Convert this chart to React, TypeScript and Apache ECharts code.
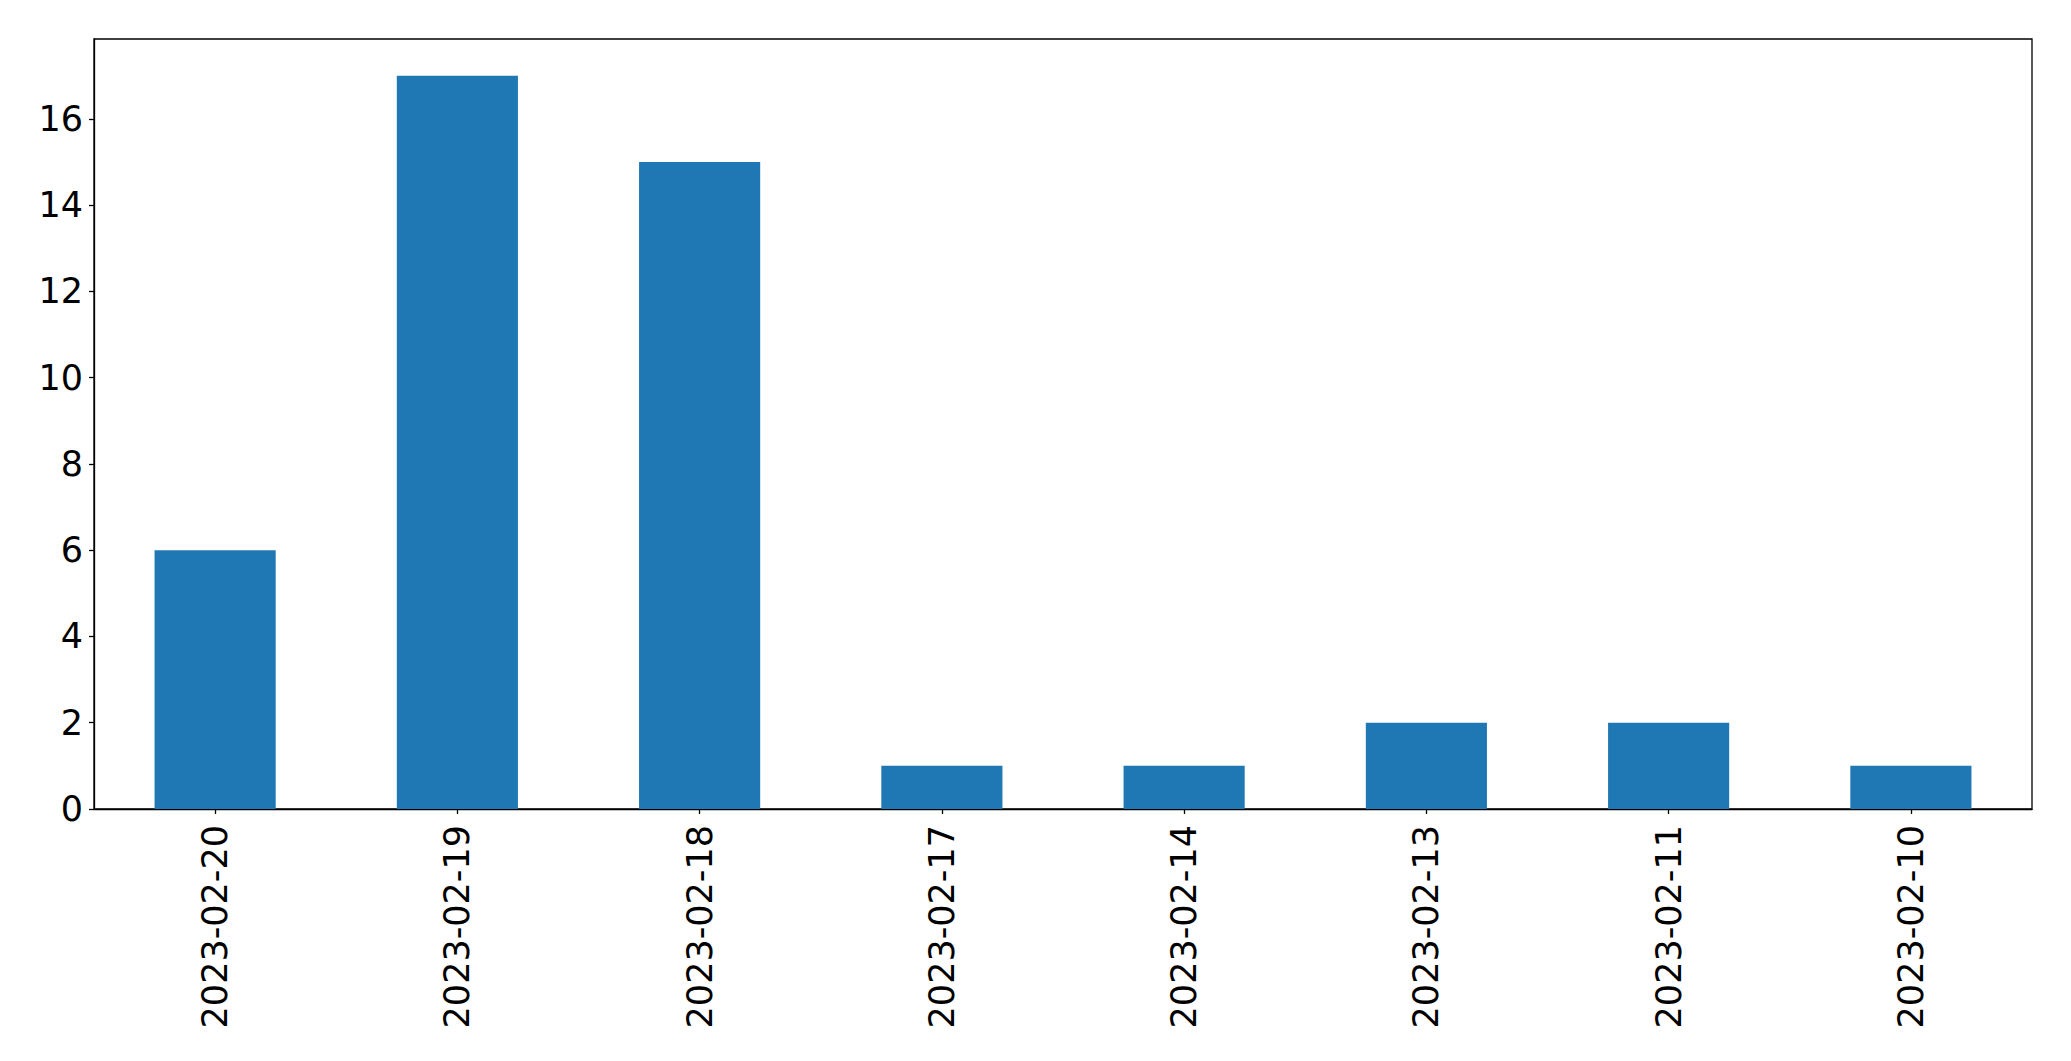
import React, { useEffect, useRef } from "react";
import * as echarts from "echarts";

const categories = [
  "2023-02-20",
  "2023-02-19",
  "2023-02-18",
  "2023-02-17",
  "2023-02-14",
  "2023-02-13",
  "2023-02-11",
  "2023-02-10",
];
const counts = [6, 17, 15, 1, 1, 2, 2, 1];
const yMax = 17.85;

export default function App() {
  const ref = useRef<HTMLDivElement>(null);
  useEffect(() => {
    if (!ref.current) return;
    const chart = echarts.init(ref.current, null, { renderer: "svg" });
    const font = "DejaVu Sans";
    chart.setOption({
      animation: false,
      backgroundColor: "#ffffff",
      grid: { left: 94, top: 39, right: 39, bottom: 252, containLabel: false, show: true, borderColor: "#000", borderWidth: 1.3 },
      xAxis: {
        type: "category",
        data: categories,
        boundaryGap: true,
        axisLine: { show: true, lineStyle: { color: "#000", width: 1.3 } },
        axisTick: { show: true, alignWithLabel: true, length: 5, lineStyle: { color: "#000", width: 1.3 } },
        axisLabel: { rotate: 90, fontSize: 35, fontFamily: font, color: "#000", margin: 16, interval: 0 },
        splitLine: { show: false },
      },
      yAxis: {
        type: "value",
        min: 0,
        max: yMax,
        interval: 2,
        axisLine: { show: true, lineStyle: { color: "#000", width: 1.3 } },
        axisTick: { show: true, length: 5, lineStyle: { color: "#000", width: 1.3 } },
        axisLabel: {
          fontSize: 35,
          fontFamily: font,
          color: "#000",
          margin: 11,
          showMaxLabel: false,
          formatter: (v: number) => (Number.isInteger(v) ? String(v) : ""),
        },
        splitLine: { show: false },
      },
      series: [
        {
          type: "bar",
          data: counts,
          barWidth: "50%",
          itemStyle: { color: "#1f77b4" },
        },
      ],
    });
    return () => chart.dispose();
  }, []);
  return (
    <div
      ref={ref}
      style={{ position: "fixed", left: 0, top: 0, width: 2071, height: 1061, background: "#fff" }}
    />
  );
}
